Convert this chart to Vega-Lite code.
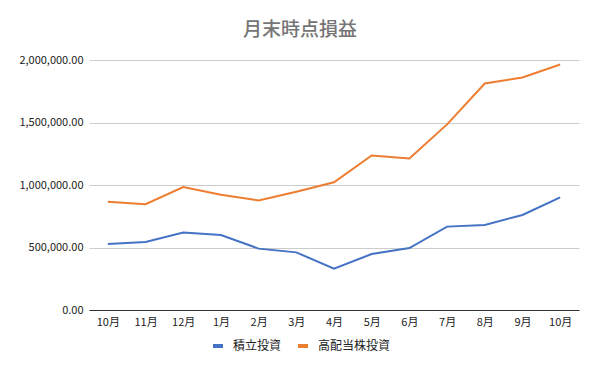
{
  "$schema": "https://vega.github.io/schema/vega-lite/v6.json",
  "width": 490,
  "height": 250,
  "autosize": {"type": "none"},
  "padding": {"left": 89, "top": 60, "right": 21, "bottom": 61},
  "background": "white",
  "title": {
    "text": "月末時点損益",
    "font": "Noto Sans CJK JP",
    "fontSize": 19,
    "fontWeight": 500,
    "color": "#757575",
    "anchor": "middle",
    "dx": -34,
    "offset": 14
  },
  "config": {
    "view": {"stroke": null},
    "font": "Noto Sans CJK JP"
  },
  "data": {
    "values": [
      {"idx": 0, "series": "積立投資", "value": 528000},
      {"idx": 1, "series": "積立投資", "value": 544000},
      {"idx": 2, "series": "積立投資", "value": 619000},
      {"idx": 3, "series": "積立投資", "value": 600000},
      {"idx": 4, "series": "積立投資", "value": 491000},
      {"idx": 5, "series": "積立投資", "value": 461000},
      {"idx": 6, "series": "積立投資", "value": 331000},
      {"idx": 7, "series": "積立投資", "value": 448000},
      {"idx": 8, "series": "積立投資", "value": 496000},
      {"idx": 9, "series": "積立投資", "value": 667000},
      {"idx": 10, "series": "積立投資", "value": 680000},
      {"idx": 11, "series": "積立投資", "value": 760000},
      {"idx": 12, "series": "積立投資", "value": 901000},
      {"idx": 0, "series": "高配当株投資", "value": 866000},
      {"idx": 1, "series": "高配当株投資", "value": 846000},
      {"idx": 2, "series": "高配当株投資", "value": 983000},
      {"idx": 3, "series": "高配当株投資", "value": 922000},
      {"idx": 4, "series": "高配当株投資", "value": 877000},
      {"idx": 5, "series": "高配当株投資", "value": 946000},
      {"idx": 6, "series": "高配当株投資", "value": 1022000},
      {"idx": 7, "series": "高配当株投資", "value": 1236000},
      {"idx": 8, "series": "高配当株投資", "value": 1212000},
      {"idx": 9, "series": "高配当株投資", "value": 1485000},
      {"idx": 10, "series": "高配当株投資", "value": 1812000},
      {"idx": 11, "series": "高配当株投資", "value": 1860000},
      {"idx": 12, "series": "高配当株投資", "value": 1964000}
    ]
  },
  "mark": {"type": "line", "strokeWidth": 2},
  "encoding": {
    "x": {
      "field": "idx",
      "type": "ordinal",
      "scale": {"type": "point", "padding": 0.5},
      "axis": {
        "title": null,
        "labelAngle": 0,
        "labelExpr": "['10月','11月','12月','1月','2月','3月','4月','5月','6月','7月','8月','9月','10月'][datum.value]",
        "ticks": false,
        "domainColor": "#333333",
        "labelColor": "#222222",
        "labelFontSize": 11,
        "labelPadding": 6,
        "grid": false
      }
    },
    "y": {
      "field": "value",
      "type": "quantitative",
      "scale": {"domain": [0, 2000000], "nice": false},
      "axis": {
        "title": null,
        "values": [0, 500000, 1000000, 1500000, 2000000],
        "format": ",.2f",
        "domain": false,
        "ticks": false,
        "gridColor": "#cccccc",
        "labelColor": "#222222",
        "labelFontSize": 11,
        "labelPadding": 6
      }
    },
    "color": {
      "field": "series",
      "type": "nominal",
      "scale": {"domain": ["積立投資", "高配当株投資"], "range": ["#4472C4", "#ED7D31"]},
      "legend": {
        "title": null,
        "orient": "none",
        "direction": "horizontal",
        "legendX": 122,
        "legendY": 279,
        "symbolType": "stroke",
        "symbolSize": 100,
        "symbolStrokeWidth": 4,
        "labelFontSize": 12,
        "labelColor": "#222222",
        "columnPadding": 8,
        "labelOffset": 8
      }
    }
  }
}
